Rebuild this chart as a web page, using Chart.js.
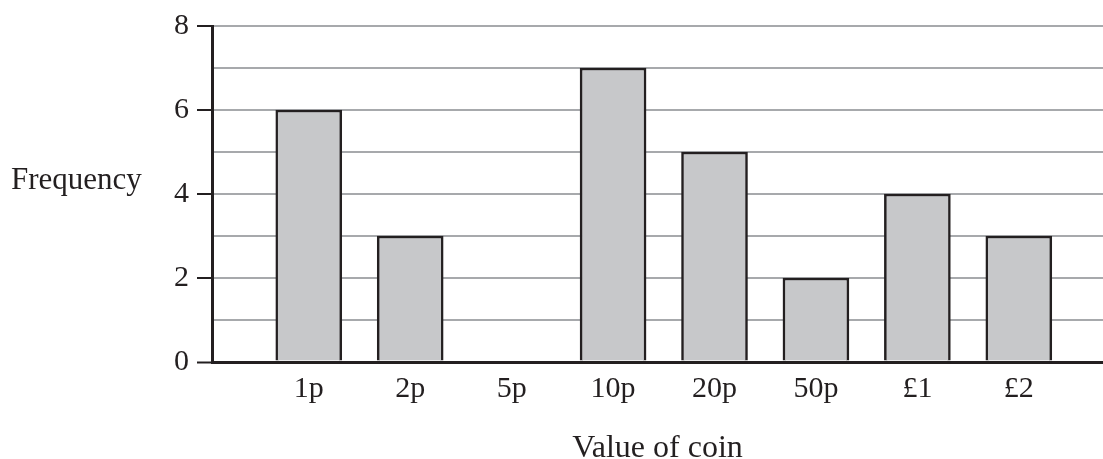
<!DOCTYPE html>
<html lang="en">
<head>
  <meta charset="UTF-8" />
  <title>Value of coin</title>
  <script src="https://cdn.jsdelivr.net/npm/chart.js"></script>
  <style>
    body {
      margin: 0;
      background: #ffffff;
    }

    .wrap {
      position: relative;
      width: 1103px;
      height: 459px;
    }
  </style>
</head>
<body>
  <div class="wrap">
    <canvas id="coinChart"></canvas>
  </div>

  <script>
    // data
    const coins = ['1p', '2p', '5p', '10p', '20p', '50p', '£1', '£2'];
    const frequency = [6, 3, 0, 7, 5, 2, 4, 3];
    const yTicks = [0, 1, 2, 3, 4, 5, 6, 7, 8];

    const ink = '#231f20';
    const gridGrey = '#a7a9ac';
    const serif = 'Liberation Serif';

    // axis titles: "Frequency" sits level on the left, "Value of coin" under the labels
    const axisTitles = {
      id: 'axisTitles',
      afterDraw(chart) {
        const ctx = chart.ctx;
        const area = chart.chartArea;
        ctx.save();
        ctx.fillStyle = ink;
        ctx.textBaseline = 'alphabetic';
        ctx.font = '31px "' + serif + '"';
        ctx.textAlign = 'left';
        ctx.fillText('Frequency', 11, 189);
        ctx.font = '32px "' + serif + '"';
        ctx.textAlign = 'center';
        ctx.fillText('Value of coin', (area.left + area.right) / 2, 457);
        ctx.restore();
      }
    };

    new Chart(document.getElementById('coinChart'), {
      type: 'bar',
      data: {
        datasets: [{
          data: coins.map((c, i) => ({ x: i + 1, y: frequency[i] })),
          backgroundColor: '#c7c8ca',
          borderColor: ink,
          borderWidth: 2.5,
          borderSkipped: 'start',
          barThickness: 66
        }]
      },
      options: {
        responsive: true,
        maintainAspectRatio: false,
        animation: false,
        layout: { padding: { top: 25, right: 0, left: 0, bottom: 0 } },
        plugins: {
          legend: { display: false },
          tooltip: { enabled: false }
        },
        scales: {
          x: {
            type: 'linear',
            offset: false,
            min: 0.046,
            max: 8.83,
            afterBuildTicks: axis => {
              axis.ticks = coins.map((c, i) => ({ value: i + 1 }));
            },
            afterFit: axis => { axis.height = 97; },
            grid: { display: false, drawTicks: false, tickLength: 0 },
            border: { display: true, color: ink, width: 3, z: 1 },
            ticks: {
              autoSkip: false,
              maxRotation: 0,
              padding: 9,
              color: ink,
              font: { family: serif, size: 30 },
              callback: v => coins[v - 1] || ''
            }
          },
          y: {
            min: 0,
            max: 8,
            afterBuildTicks: axis => {
              axis.ticks = yTicks.map(v => ({ value: v }));
            },
            afterFit: axis => { axis.width = 212; },
            grid: {
              color: c => c.tick && c.tick.value === 0 ? ink : gridGrey,
              lineWidth: c => c.tick && c.tick.value === 0 ? 3 : 2,
              tickColor: c => c.tick && c.tick.value % 2 === 0 ? ink : 'rgba(0,0,0,0)',
              tickWidth: 2,
              tickLength: 15
            },
            border: { display: true, color: ink, width: 3, z: 1 },
            ticks: {
              padding: 8,
              color: ink,
              font: { family: serif, size: 30 },
              callback: v => v % 2 === 0 ? v : ''
            }
          }
        }
      },
      plugins: [axisTitles]
    });
  </script>
</body>
</html>
